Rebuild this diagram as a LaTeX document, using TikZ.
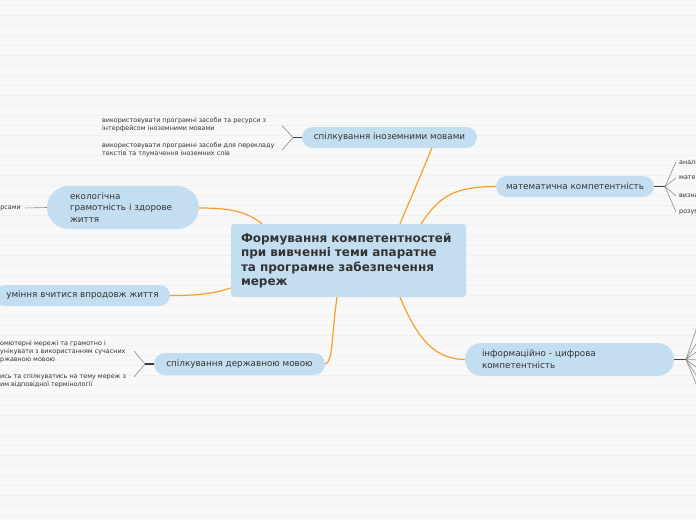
\documentclass[tikz,border=0pt]{standalone}
\usepackage{fontspec}
\setmainfont{DejaVu Sans}
\definecolor{bgc}{RGB}{248,248,248}
\definecolor{stripec}{RGB}{240,240,240}
\definecolor{nodeblue}{RGB}{196,222,241}
\definecolor{orangec}{RGB}{247,160,40}
\definecolor{textc}{RGB}{51,51,51}
\definecolor{leafgray}{RGB}{140,140,140}
\begin{document}
\begin{tikzpicture}[x=1pt,y=-1pt,
  branch/.style={fill=nodeblue, text=textc, font=\fontsize{8.8}{11.8}\selectfont, inner sep=0pt, minimum height=21pt, rounded corners=10.5pt},
  centralbox/.style={fill=nodeblue, text=textc, font=\bfseries\fontsize{12}{14.5}\selectfont, align=left, text width=215pt, inner xsep=10pt, inner ysep=0pt, minimum height=73pt, minimum width=235pt, rounded corners=3pt},
  orangeline/.style={draw=orangec, line width=1.2pt},
  leafline/.style={draw=leafgray, line width=0.6pt},
  hubline/.style={draw=black!75, line width=1.2pt},
  leaf/.style={font=\fontsize{6.4}{8.2}\selectfont, text=textc, align=left, inner sep=0pt},
  stripe/.style={draw=stripec, line width=0.8pt}
]
\useasboundingbox (0,0) rectangle (696,520);
\clip (0,0) rectangle (696,520);
\fill[bgc] (0,0) rectangle (696,520);
\foreach \yy in {5,15,...,515} \draw[stripe] (0,\yy) -- (696,\yy);

% central node
\node[centralbox] (c) at (348.5,260.5) {Формування компетентностей\\при вивченні теми апаратне\\та програмне забезпечення\\мереж};

% branch nodes
\node[branch, minimum width=175pt] (n1) at (389.5,137.5) {спілкування іноземними мовами};
\node[branch, minimum width=158pt] (n2) at (575,186.5) {математична компетентність};
\node[branch, minimum height=33pt, rounded corners=16.5pt, align=left, text width=175pt, inner xsep=17pt] (n3) at (569.5,359.5) {інформаційно - цифрова\\компетентність};
\node[branch, minimum width=171pt, minimum height=22pt, rounded corners=11pt] (n4) at (239.5,364) {спілкування державною мовою};
\node[branch, minimum width=175pt] (n5) at (82.5,295.5) {уміння вчитися впродовж життя};
\node[branch, minimum height=43pt, rounded corners=21.5pt, align=left, text width=106pt, inner xsep=23pt] (n6) at (123,207.5) {екологічна\\грамотність і здорове\\життя};

% orange connectors
\draw[orangeline] ([xshift=51.5pt]c.north) .. controls (412,195) and (424,168) .. (432,147.5);
\draw[orangeline] ([xshift=72.5pt]c.north) .. controls (440,195) and (455,187) .. (n2.west);
\draw[orangeline] ([xshift=51.5pt]c.south) .. controls (418,340) and (435,359) .. (n3.west);
\draw[orangeline] ([xshift=-11.5pt]c.south) .. controls (331,340) and (333,362) .. (n4.east);
\draw[orangeline] ([yshift=-27.5pt]c.west) .. controls (210,295) and (190,295.5) .. (n5.east);
\draw[orangeline] ([xshift=-86.5pt]c.north) .. controls (245,210) and (225,208) .. ([yshift=-0.5pt]n6.east);

% leaves of n1
\coordinate (h1) at (293,137.5);
\draw[hubline] (n1.west) -- (h1);
\node[leaf, anchor=west] (l11) at (102,125) {використовувати програмні засоби та ресурси з\\інтерфейсом іноземними мовами};
\node[leaf, anchor=west] (l12) at (102,150) {використовувати програмні засоби для перекладу\\текстів та тлумачення іноземних слів};
\coordinate (e11) at (282,125.5);
\coordinate (e12) at (282,150);
\draw[leafline] (h1) -- (e11);
\draw[leafline] (h1) -- (e12);

% leaves of n2
\coordinate (h2) at (665,186.5);
\draw[hubline] (n2.east) -- (h2);
\node[leaf, anchor=west] (l21) at (679,162) {аналі};
\node[leaf, anchor=west] (l22) at (679,178) {мате};
\node[leaf, anchor=west] (l23) at (679,196) {визна};
\node[leaf, anchor=west] (l24) at (679,212) {розум};
\draw[leafline] (h2) -- ([xshift=-3pt]l21.west);
\draw[leafline] (h2) -- ([xshift=-3pt]l22.west);
\draw[leafline] (h2) -- ([xshift=-3pt]l23.west);
\draw[leafline] (h2) -- ([xshift=-3pt]l24.west);

% leaves of n3
\coordinate (h3) at (686,359.5);
\draw[hubline] (n3.east) -- (h3);
\foreach \ey [count=\i] in {318,338,349,360,370,381,393} {
  \coordinate (e3\i) at (700,\ey);
  \draw[leafline] (h3) -- (e3\i);
}

% leaves of n4
\coordinate (h4) at (145,364);
\draw[hubline] (n4.west) -- (h4);
\node[leaf, anchor=west] (l41) at (0,351.5) {омютерні мережі та грамотно і\\унікувати з використанням сучасних\\ржавною мовою};
\node[leaf, anchor=west] (l42) at (0,381) {ись та спілкуватись на тему мереж з\\им відповідної термінології};
\coordinate (e41) at (134,351);
\coordinate (e42) at (134,377);
\draw[leafline] (h4) -- (e41);
\draw[leafline] (h4) -- (e42);

% leaf of n6
\node[leaf, anchor=east] (l61) at (21,208) {рсами};
\draw[leafline] (n6.west) -- ([xshift=4pt]l61.east);
\end{tikzpicture}
\end{document}
